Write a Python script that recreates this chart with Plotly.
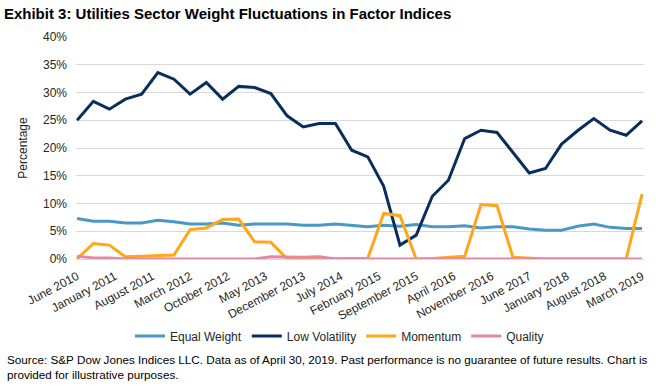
import pandas as pd
import plotly.graph_objects as go

# Quarterly observation dates (June 2010 .. March 2019)
dates = pd.date_range("2010-06-01", periods=36, freq="3MS")

equal_weight = [7.3, 6.8, 6.8, 6.5, 6.5, 7.0, 6.7, 6.3, 6.3, 6.5, 6.1, 6.3,
                6.3, 6.3, 6.1, 6.1, 6.3, 6.1, 5.8, 6.1, 5.9, 6.2, 5.8, 5.8,
                6.0, 5.6, 5.8, 5.8, 5.4, 5.2, 5.2, 5.9, 6.3, 5.7, 5.5, 5.5]
low_volatility = [25.0, 28.4, 27.0, 28.8, 29.7, 33.6, 32.4, 29.7, 31.8, 28.8, 31.1, 30.9,
                  29.8, 25.8, 23.8, 24.4, 24.4, 19.6, 18.4, 13.1, 2.5, 4.3, 11.3, 14.2,
                  21.7, 23.2, 22.8, 19.1, 15.5, 16.3, 20.7, 23.1, 25.3, 23.2, 22.3, 24.9]
momentum = [0.0, 2.8, 2.5, 0.4, 0.5, 0.6, 0.7, 5.3, 5.6, 7.1, 7.2, 3.1,
            3.0, 0.0, 0.0, 0.0, 0.0, 0.1, 0.15, 8.2, 7.8, 0.0, 0.1, 0.3,
            0.5, 9.8, 9.6, 0.3, 0.15, 0.0, 0.0, 0.0, 0.0, 0.0, 0.0, 11.7]
quality = [0.5, 0.2, 0.2, 0.0, 0.0, 0.0, 0.0, 0.0, 0.0, 0.0, 0.0, 0.0,
           0.4, 0.3, 0.3, 0.4, 0.0, 0.0, 0.0, 0.0, 0.0, 0.0, 0.0, 0.0,
           0.0, 0.0, 0.0, 0.0, 0.0, 0.0, 0.0, 0.0, 0.0, 0.0, 0.0, 0.0]

tick_dates = ["2010-06-01", "2011-01-01", "2011-08-01", "2012-03-01", "2012-10-01",
              "2013-05-01", "2013-12-01", "2014-07-01", "2015-02-01", "2015-09-01",
              "2016-04-01", "2016-11-01", "2017-06-01", "2018-01-01", "2018-08-01",
              "2019-03-01"]
tick_labels = ["June 2010", "January 2011", "August 2011", "March 2012", "October 2012",
               "May 2013", "December 2013", "July 2014", "February 2015", "September 2015",
               "April 2016", "November 2016", "June 2017", "January 2018", "August 2018",
               "March 2019"]

series = [
    ("Equal Weight", equal_weight, "#4A98C6"),
    ("Low Volatility", low_volatility, "#0A2E5C"),
    ("Momentum", momentum, "#FFA619"),
    ("Quality", quality, "#E088A8"),
]

fig = go.Figure()
for name, vals, color in series:
    fig.add_trace(go.Scatter(x=dates, y=vals, name=name, mode="lines",
                             line=dict(color=color, width=3)))

FONT = "Liberation Sans, Arial, sans-serif"
fig.update_layout(
    width=658, height=392,
    margin=dict(l=76, r=14, t=37, b=133),
    paper_bgcolor="white", plot_bgcolor="white",
    font=dict(family=FONT, size=12, color="#262626"),
    title=dict(text="<b>Exhibit 3: Utilities Sector Weight Fluctuations in Factor Indices</b>",
               x=0.006, xanchor="left", xref="container",
               y=0.964, yanchor="middle", yref="container",
               font=dict(family=FONT, size=15, color="#000000")),
    showlegend=True,
    legend=dict(orientation="h", x=0.095, xanchor="left", y=-0.347, yanchor="middle",
                font=dict(size=12, color="#262626"), itemwidth=30,
                bgcolor="rgba(0,0,0,0)"),
)
fig.update_xaxes(
    type="date", range=["2010-05-26", "2019-03-12"],
    tickvals=tick_dates, ticktext=tick_labels, tickangle=-28,
    showgrid=False, showline=True, linecolor="#D9D9D9", linewidth=1,
    ticks="", ticklabelstandoff=5, tickfont=dict(size=12, color="#262626"), zeroline=False,
)
fig.update_yaxes(
    range=[0, 40], dtick=5, ticksuffix="%",
    showgrid=True, gridcolor="#D9D9D9", gridwidth=1, zeroline=False,
    ticklabelstandoff=8,
    title=dict(text="Percentage", font=dict(size=12, color="#262626"), standoff=12),
    tickfont=dict(size=12, color="#262626"),
)
fig.add_annotation(
    text="Source: S&P Dow Jones Indices LLC. Data as of April 30, 2019. Past performance is no guarantee of future results. Chart is<br>provided for illustrative purposes.",
    xref="paper", yref="paper", x=-0.125, y=-0.414, xanchor="left", yanchor="top",
    align="left", showarrow=False, font=dict(family=FONT, size=11.7, color="#000000"),
)
fig.write_html("out.html", config={"displayModeBar": False},
               post_script="document.body.style.margin='0px';")
